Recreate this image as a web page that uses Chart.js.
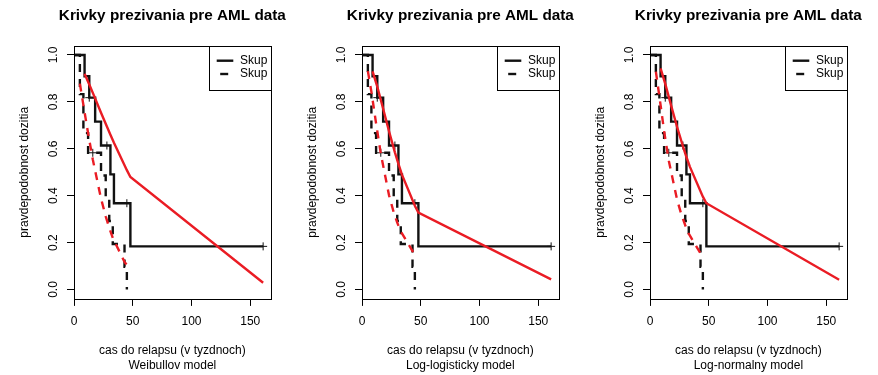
<!DOCTYPE html>
<html><head><meta charset="utf-8">
<script src="https://cdn.jsdelivr.net/npm/chart.js@4.4.1/dist/chart.umd.min.js"></script>
<style>
html,body{margin:0;padding:0;background:#fff;}
#wrap{position:relative;width:878px;height:375px;overflow:hidden;background:#fff;}
canvas{position:absolute;top:0;}
</style></head><body>
<div id="wrap">
<canvas id="c0" width="288" height="375" style="left:0px;width:288px;height:375px"></canvas>
<canvas id="c1" width="288" height="375" style="left:288px;width:288px;height:375px"></canvas>
<canvas id="c2" width="288" height="375" style="left:576px;width:288px;height:375px"></canvas>
</div>
<script>
// ---- data ----
const chartTitle = 'Krivky prezivania pre AML data';
const xAxisLabel = 'cas do relapsu (v tyzdnoch)';
const yAxisLabel = 'pravdepodobnost dozitia';
const modelNames = ['Weibullov model', 'Log-logisticky model', 'Log-normalny model'];
const legendLabels = ['Skup', 'Skup'];
const xTicks = [0, 50, 100, 150];
const xTickLabels = ['0', '50', '100', '150'];
const yTicks = [0, 0.2, 0.4, 0.6, 0.8, 1.0];
const yTickLabels = ['0.0', '0.2', '0.4', '0.6', '0.8', '1.0'];

// Kaplan-Meier estimates
const kmTimesMaint = [0, 9, 13, 18, 23, 31, 34, 48, 161];
const kmSurvMaint  = [1, 0.909, 0.818, 0.716, 0.614, 0.491, 0.368, 0.184, 0.184];
const kmTimesNon   = [0, 5, 8, 12, 23, 27, 30, 33, 43, 45];
const kmSurvNon    = [1, 0.833, 0.667, 0.583, 0.486, 0.389, 0.292, 0.194, 0.097, 0];
// censoring marks
const censTimesMaint = [13, 28, 45, 161];
const censSurvMaint  = [0.818, 0.614, 0.368, 0.184];
const censTimesNon   = [16];
const censSurvNon    = [0.583];

// fitted parametric curves
const fitTimesMaint = [9, 13, 18, 23, 28, 31, 34, 45, 48, 161];
const fitTimesNon   = [5, 8, 12, 16, 23, 27, 30, 33, 43, 45];
const weibullMaint  = [0.920, 0.874, 0.815, 0.754, 0.695, 0.660, 0.626, 0.509, 0.480, 0.029];
const weibullNon    = [0.878, 0.787, 0.666, 0.554, 0.388, 0.312, 0.263, 0.220, 0.118, 0.104];
const loglogMaint   = [0.930, 0.865, 0.771, 0.675, 0.585, 0.536, 0.490, 0.357, 0.328, 0.043];
const loglogNon     = [0.931, 0.843, 0.708, 0.579, 0.402, 0.329, 0.285, 0.248, 0.164, 0.152];
const lognormMaint  = [0.943, 0.877, 0.784, 0.694, 0.611, 0.565, 0.523, 0.396, 0.368, 0.042];
const lognormNon    = [0.929, 0.823, 0.676, 0.549, 0.384, 0.315, 0.274, 0.238, 0.154, 0.142];

const fitsMaint = [weibullMaint, loglogMaint, lognormMaint];
const fitsNon   = [weibullNon, loglogNon, lognormNon];

// ---- styling ----
const FONT = '"Liberation Sans", Arial, Helvetica, sans-serif';
const BLACK = '#111111';
const RED = 'rgb(234,28,36)';
const DASH = [8, 7];
const LW = 2.4;

function pts(xs, ys) { return xs.map((x, i) => ({ x: x, y: ys[i] })); }

const decor = {
  id: 'decor',
  afterDraw(chart) {
    const ctx = chart.ctx, a = chart.chartArea, ys = chart.scales.y;
    ctx.save();
    // plot box
    ctx.strokeStyle = '#000'; ctx.lineWidth = 1; ctx.setLineDash([]);
    const L = Math.round(a.left) + 0.5, T = Math.round(a.top) + 0.5;
    const R = Math.round(a.right) + 0.5, B = Math.round(a.bottom) + 0.5;
    ctx.strokeRect(L, T, R - L, B - T);
    // title
    ctx.fillStyle = '#000';
    ctx.font = 'bold 15.3px ' + FONT;
    ctx.textAlign = 'center'; ctx.textBaseline = 'middle';
    ctx.fillText(chartTitle, (a.left + a.right) / 2, 16);
    // y tick labels (rotated, parallel to axis)
    ctx.font = '12px ' + FONT;
    yTicks.forEach((v, i) => {
      const py = ys.getPixelForValue(v);
      ctx.save();
      ctx.translate(a.left - 20.5, py);
      ctx.rotate(-Math.PI / 2);
      ctx.fillText(yTickLabels[i], 0, 0);
      ctx.restore();
    });
    // legend
    const lx = Math.round(a.right - 61.7) + 0.5;
    ctx.fillStyle = '#fff';
    ctx.fillRect(lx, T, R - lx, 44);
    ctx.strokeStyle = '#000'; ctx.lineWidth = 1;
    ctx.strokeRect(lx, T, R - lx, 44);
    const rowY = [a.top + 15.1, a.top + 28.4];
    ctx.strokeStyle = BLACK; ctx.lineWidth = LW; ctx.lineCap = 'butt';
    rowY.forEach((yy, i) => {
      ctx.beginPath();
      if (i === 1) { ctx.setLineDash(DASH); ctx.lineDashOffset = 11.5; } else { ctx.setLineDash([]); }
      ctx.moveTo(a.right - 54, yy); ctx.lineTo(a.right - 37.4, yy);
      ctx.stroke();
    });
    ctx.setLineDash([]);
    ctx.fillStyle = '#000'; ctx.textAlign = 'left'; ctx.textBaseline = 'middle';
    ctx.font = '12px ' + FONT;
    rowY.forEach((yy, i) => ctx.fillText(legendLabels[i], a.right - 30.7, yy));
    ctx.restore();
  }
};

function makeChart(id, p) {
  const datasets = [
    { data: pts(kmTimesMaint, kmSurvMaint), stepped: 'before', borderColor: BLACK, borderWidth: LW,
      pointRadius: 0, fill: false, order: 2, borderJoinStyle: 'miter' },
    { data: pts(kmTimesNon, kmSurvNon), stepped: 'before', borderColor: BLACK, borderWidth: LW,
      borderDash: DASH, pointRadius: 0, fill: false, order: 2, borderJoinStyle: 'miter' },
    { data: pts(censTimesMaint, censSurvMaint), showLine: false, pointStyle: 'cross', pointRadius: 4,
      borderColor: BLACK, pointBorderColor: BLACK, pointBorderWidth: 1, order: 3 },
    { data: pts(censTimesNon, censSurvNon), showLine: false, pointStyle: 'cross', pointRadius: 4,
      borderColor: BLACK, pointBorderColor: BLACK, pointBorderWidth: 1, order: 3 },
    { data: pts(fitTimesMaint, fitsMaint[p]), borderColor: RED, borderWidth: LW, pointRadius: 0,
      fill: false, tension: 0, order: 0 },
    { data: pts(fitTimesNon, fitsNon[p]), borderColor: RED, borderWidth: LW, borderDash: DASH,
      pointRadius: 0, fill: false, tension: 0, order: 0 }
  ];
  return new Chart(document.getElementById(id), {
    type: 'line',
    data: { datasets: datasets },
    plugins: [decor],
    options: {
      responsive: false, animation: false, devicePixelRatio: 1, events: [],
      layout: { padding: { left: 0, right: 17.3, top: 45.6, bottom: 0 } },
      plugins: { legend: { display: false }, tooltip: { enabled: false }, title: { display: false } },
      scales: {
        x: {
          type: 'linear', min: 0, max: 167.44,
          afterBuildTicks: s => { s.ticks = xTicks.map(v => ({ value: v })); },
          afterFit: s => { s.height = 76.1; },
          border: { display: false },
          grid: { display: true, drawOnChartArea: false, drawTicks: true, tickLength: 7, color: '#000', lineWidth: 1 },
          ticks: { color: '#000', font: { family: FONT, size: 12 }, padding: 8.6, maxRotation: 0, autoSkip: false,
                   callback: v => { const i = xTicks.indexOf(v); return i >= 0 ? xTickLabels[i] : ''; } },
          title: { display: true, text: [xAxisLabel, modelNames[p]], color: '#000',
                   font: { family: FONT, size: 12, lineHeight: 1.25 }, padding: { top: 0, bottom: 1.5 } }
        },
        y: {
          type: 'linear', min: -0.04, max: 1.04,
          afterBuildTicks: s => { s.ticks = yTicks.map(v => ({ value: v })); },
          afterFit: s => { s.width = 74; },
          border: { display: false },
          grid: { display: true, drawOnChartArea: false, drawTicks: true, tickLength: 7, color: '#000', lineWidth: 1 },
          ticks: { display: false },
          title: { display: true, text: yAxisLabel, color: '#000',
                   font: { family: FONT, size: 12, lineHeight: 1.2 }, padding: { top: 17.3, bottom: 0 } }
        }
      }
    }
  });
}

makeChart('c0', 0);
makeChart('c1', 1);
makeChart('c2', 2);
</script>
</body></html>
